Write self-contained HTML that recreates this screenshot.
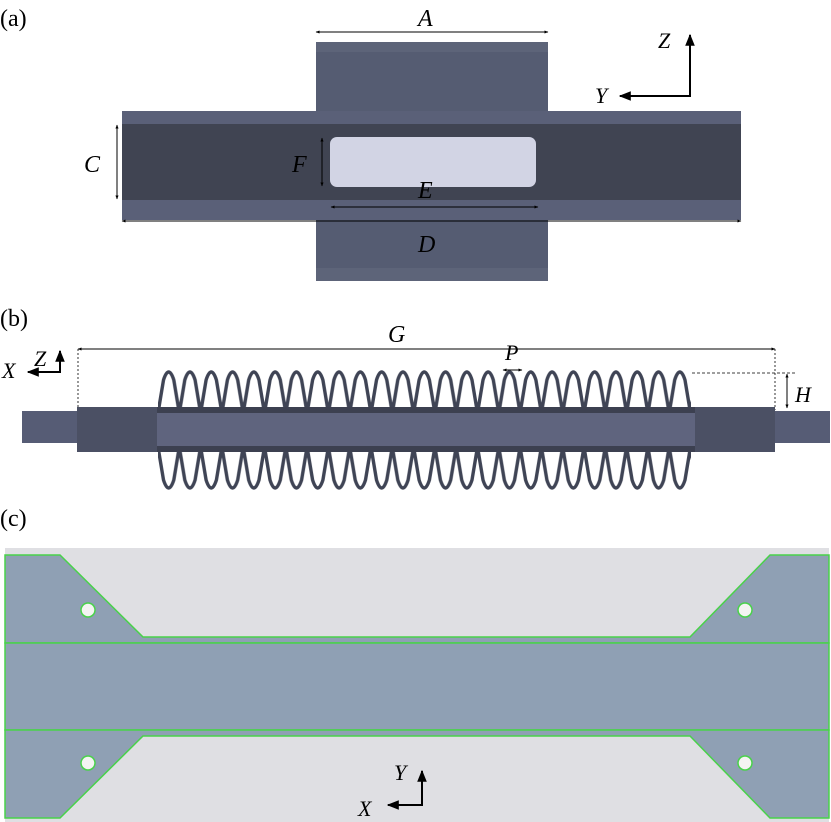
<!DOCTYPE html>
<html><head><meta charset="utf-8"><style>html,body{margin:0;padding:0;background:#fff}svg{display:block}text{font-family:"Liberation Serif",serif}</style></head>
<body>
<svg width="831" height="822" viewBox="0 0 831 822" xmlns="http://www.w3.org/2000/svg">
<defs>
<marker id="ar" viewBox="0 0 10 10" refX="9" refY="5" markerWidth="6" markerHeight="6" orient="auto-start-reverse"><path d="M0,1 L10,5 L0,9 z" fill="#000"/></marker>
<marker id="sm" viewBox="0 0 10 10" refX="9" refY="5" markerWidth="4" markerHeight="4" orient="auto-start-reverse"><path d="M0,1 L10,5 L0,9 z" fill="#000"/></marker>
<pattern id="spt" patternUnits="userSpaceOnUse" x="158" y="368" width="21.3" height="42">
<path d="M0.5,42 L5.5,12 Q10.65,-4 15.8,12 L20.8,42" fill="none" stroke="#3f4455" stroke-width="3.4"/>
</pattern>
<pattern id="spb" patternUnits="userSpaceOnUse" x="158" y="450" width="21.3" height="42">
<path d="M0.5,0 L5.5,30 Q10.65,46 15.8,30 L20.8,0" fill="none" stroke="#3f4455" stroke-width="3.4"/>
</pattern>
</defs>
<!-- (a) -->
<text x="0" y="26" font-size="24">(a)</text>
<rect x="316" y="42" width="232" height="70" fill="#555c72"/>
<rect x="316" y="42" width="232" height="10" fill="#5d6479"/>
<rect x="122" y="111" width="619" height="109" fill="#5a6078"/>
<rect x="122" y="124" width="619" height="76" fill="#404452"/>
<rect x="316" y="220" width="232" height="61" fill="#555c72"/>
<rect x="316" y="268" width="232" height="13" fill="#5d6479"/>
<rect x="330" y="137" width="206" height="50" rx="7" fill="#d2d4e4"/>
<line x1="316" y1="32" x2="548" y2="32" stroke="#000" marker-start="url(#sm)" marker-end="url(#sm)"/>
<line x1="122" y1="221" x2="741" y2="221" stroke="#000" marker-start="url(#sm)" marker-end="url(#sm)"/>
<line x1="117" y1="125" x2="117" y2="199" stroke="#000" marker-start="url(#sm)" marker-end="url(#sm)"/>
<line x1="322" y1="138" x2="322" y2="186" stroke="#000" marker-start="url(#sm)" marker-end="url(#sm)"/>
<line x1="331" y1="207" x2="538" y2="207" stroke="#000" marker-start="url(#sm)" marker-end="url(#sm)"/>
<text x="418" y="26" font-size="24" font-style="italic">A</text>
<text x="84" y="172" font-size="24" font-style="italic">C</text>
<text x="292" y="172" font-size="24" font-style="italic">F</text>
<text x="418" y="198" font-size="24" font-style="italic">E</text>
<text x="418" y="252" font-size="24" font-style="italic">D</text>
<text x="658" y="48" font-size="22" font-style="italic">Z</text>
<text x="595" y="103" font-size="22" font-style="italic">Y</text>
<polyline points="690,35 690,96 620,96" fill="none" stroke="#000" stroke-width="2" marker-start="url(#ar)" marker-end="url(#ar)"/>
<!-- (b) -->
<text x="0" y="326" font-size="24">(b)</text>
<line x1="78" y1="349" x2="775" y2="349" stroke="#000" marker-start="url(#sm)" marker-end="url(#sm)"/>
<line x1="78" y1="349" x2="78" y2="410" stroke="#000" stroke-dasharray="2,2" stroke-width="0.8"/>
<line x1="775" y1="349" x2="775" y2="410" stroke="#000" stroke-dasharray="2,2" stroke-width="0.8"/>
<text x="388" y="342" font-size="24" font-style="italic">G</text>
<text x="505" y="360" font-size="22" font-style="italic">P</text>
<line x1="503" y1="370" x2="522" y2="370" stroke="#000" marker-start="url(#sm)" marker-end="url(#sm)"/>
<line x1="692" y1="373" x2="795" y2="373" stroke="#000" stroke-dasharray="3,2" stroke-width="0.8"/>
<line x1="787" y1="374" x2="787" y2="408" stroke="#000" marker-start="url(#sm)" marker-end="url(#sm)"/>
<text x="795" y="402" font-size="22" font-style="italic">H</text>
<rect x="158" y="368" width="533" height="42" fill="url(#spt)"/>
<rect x="158" y="450" width="533" height="42" fill="url(#spb)"/>
<rect x="22" y="411" width="55" height="32" fill="#565c75"/>
<rect x="775" y="411" width="55" height="32" fill="#565c75"/>
<rect x="77" y="407" width="698" height="45" fill="#4b5064"/>
<rect x="157" y="407" width="538" height="45" fill="#5f647e"/>
<rect x="157" y="407" width="538" height="6" fill="#3c4050"/>
<rect x="157" y="446" width="538" height="6" fill="#3c4050"/>
<polyline points="60,351 60,372 28,372" fill="none" stroke="#000" stroke-width="2" marker-start="url(#ar)" marker-end="url(#ar)"/>
<text x="34" y="366" font-size="22" font-style="italic">Z</text>
<text x="2" y="378" font-size="22" font-style="italic">X</text>
<!-- (c) -->
<text x="0" y="526" font-size="24">(c)</text>
<rect x="5" y="548" width="824" height="274" fill="#dfdfe3"/>
<g fill="#8fa0b4" stroke="#49d24a" stroke-width="1.5">
<polygon points="5,555 60,555 143,637 690,637 770,555 829,555 829,643 5,643"/>
<rect x="5" y="643" width="824" height="87"/>
<polygon points="5,730 829,730 829,818 770,818 690,736 143,736 60,818 5,818"/>
</g>
<g fill="#f4f4f2" stroke="#49d24a" stroke-width="1.5">
<circle cx="88" cy="610" r="7"/><circle cx="745" cy="610" r="7"/>
<circle cx="88" cy="763" r="7"/><circle cx="745" cy="763" r="7"/>
</g>
<polyline points="422,771 422,805 388,805" fill="none" stroke="#000" stroke-width="2" marker-start="url(#ar)" marker-end="url(#ar)"/>
<text x="394" y="780" font-size="22" font-style="italic">Y</text>
<text x="358" y="816" font-size="22" font-style="italic">X</text>
</svg>
</body></html>
